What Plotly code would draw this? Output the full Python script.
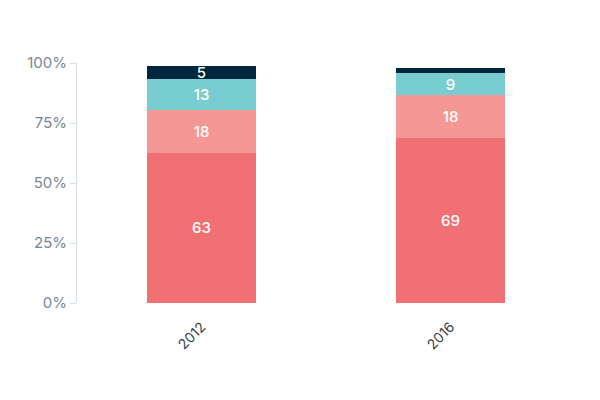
import plotly.graph_objects as go

YEARS = ["2012", "2016"]
SEG_A = [62.6, 68.9]
SEG_B = [18.0, 17.8]
SEG_C = [12.9, 9.1]
SEG_D = [5.1, 2.1]

Y_TICKS = [0, 25, 50, 75, 100]
Y_TICK_TEXT = ["0%", "25%", "50%", "75%", "100%"]

COLORS = ["#F07073", "#F59794", "#78CDD0", "#00263E"]


def labels(values):
    # small segments carry no label in the reference
    return [f"{v:.0f}" if v >= 4 else "" for v in values]


fig = go.Figure()
for values, color in zip([SEG_A, SEG_B, SEG_C, SEG_D], COLORS):
    fig.add_trace(
        go.Bar(
            x=YEARS,
            y=values,
            text=labels(values),
            textposition="inside",
            insidetextanchor="middle",
            textangle=0,
            textfont={"color": "white", "size": 15, "weight": 500},
            marker={"color": color, "line": {"width": 0}},
            hoverinfo="skip",
        )
    )

# the page body adds an 8px offset, so margins are trimmed to match
fig.update_layout(
    barmode="stack",
    bargap=0.56,
    width=600,
    height=400,
    margin={"l": 69, "r": 33, "t": 55, "b": 105},
    paper_bgcolor="white",
    plot_bgcolor="white",
    showlegend=False,
    font={"family": "Inter, sans-serif"},
    uniformtext={"minsize": 15, "mode": "show"},
)
fig.update_xaxes(
    type="category",
    tickangle=-45,
    tickfont={"size": 14, "color": "#3A3F47"},
    ticklabelstandoff=12,
    showgrid=False,
    showline=False,
    ticks="",
    automargin=False,
)
fig.update_yaxes(
    range=[0, 100],
    tickvals=Y_TICKS,
    ticktext=Y_TICK_TEXT,
    tickfont={"size": 15, "color": "#7A8595"},
    showgrid=False,
    zeroline=False,
    showline=True,
    linecolor="#D8DEE5",
    linewidth=1,
    ticks="outside",
    ticklen=6,
    tickcolor="#D8DEE5",
    automargin=False,
)

fig.write_html("out.html")
